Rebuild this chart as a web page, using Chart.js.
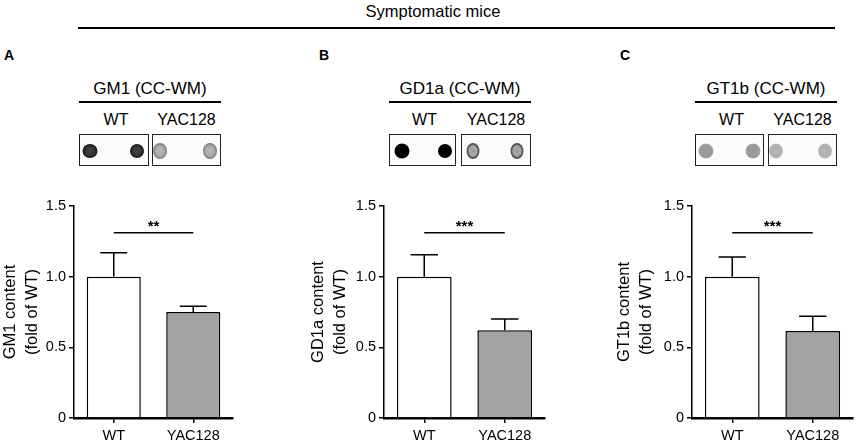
<!DOCTYPE html>
<html>
<head>
<meta charset="utf-8">
<script src="https://cdn.jsdelivr.net/npm/chart.js@4.4.0/dist/chart.umd.min.js"></script>
<style>
  body { margin: 0; background: #fff; font-family: "Liberation Sans", Arial, sans-serif; }
  #page { position: relative; width: 856px; height: 444px; overflow: hidden; }
  .txt { position: absolute; color: #000; white-space: nowrap; transform: translate(-50%, -50%); }
  .hline { position: absolute; background: #000; height: 1.5px; }
  .letter { position: absolute; font-weight: bold; font-size: 14px; }
  .box { position: absolute; border: 1.5px solid #222; box-sizing: border-box; background: #fbfbfb; }
  .spot { position: absolute; border-radius: 50%; transform: translate(-50%, -50%); }
  canvas { position: absolute; top: 190px; }
</style>
</head>
<body>
<div id="page">
  <div class="txt" style="left:433px;top:11px;font-size:16.5px;">Symptomatic mice</div>
  <div class="hline" style="left:78px;top:27px;width:757px;"></div>
  <div class="letter" style="left:4px;top:47px;">A</div>
  <div class="letter" style="left:319px;top:47px;">B</div>
  <div class="letter" style="left:620px;top:47px;">C</div>
  <canvas id="chartA" width="260" height="254" style="left:0px"></canvas>
  <canvas id="chartB" width="280" height="254" style="left:308px"></canvas>
  <canvas id="chartC" width="276" height="254" style="left:614px"></canvas>
</div>
<script>
// groups on the x axis
const groups = ['WT', 'YAC128'];
const yTicks = [0, 0.5, 1.0, 1.5];

// GM1 content (fold of WT)
const gm1Mean = [1.0, 0.75];
const gm1Sem = [0.17, 0.04];
// GD1a content
const gd1aMean = [1.0, 0.62];
const gd1aSem = [0.155, 0.08];
// GT1b content
const gt1bMean = [1.0, 0.615];
const gt1bSem = [0.14, 0.105];

const sigStars = ['**', '***', '***'];
const sigLevel = 1.31;

const page = document.getElementById('page');

// dot blot insets (decoration above each chart)
function addText(x, y, size, text) {
    var d = document.createElement('div');
    d.className = 'txt';
    d.style.left = x + 'px';
    d.style.top = y + 'px';
    d.style.fontSize = size + 'px';
    d.textContent = text;
    page.appendChild(d);
}

function addBlot(b) {
    addText((b.x0 + b.x3) / 2, 89, 17, b.title);
    var l = document.createElement('div');
    l.className = 'hline';
    l.style.left = b.x0 + 'px';
    l.style.top = '101px';
    l.style.width = (b.x3 - b.x0) + 'px';
    page.appendChild(l);
    addText((b.x0 + b.x1) / 2 + 2, 120, 16, 'WT');
    addText((b.x2 + b.x3) / 2, 120, 16, 'YAC128');
    [[b.x0, b.x1], [b.x2, b.x3]].forEach(function (r) {
        var box = document.createElement('div');
        box.className = 'box';
        box.style.left = r[0] + 'px';
        box.style.top = '134px';
        box.style.width = (r[1] - r[0]) + 'px';
        box.style.height = '32px';
        page.appendChild(box);
    });
    b.spots.forEach(function (s) {
        var sp = document.createElement('div');
        sp.className = 'spot';
        sp.style.left = s[0] + 'px';
        sp.style.top = '151px';
        sp.style.width = s[2] + 'px';
        sp.style.height = s[3] + 'px';
        sp.style.background = s[4];
        page.appendChild(sp);
    });
}

const darkRing = 'radial-gradient(ellipse at center, #444 0%, #333 45%, #111 70%, rgba(80,80,80,0.4) 90%, rgba(255,255,255,0) 100%)';
const greyRing = 'radial-gradient(ellipse at center, #b8b8b8 0%, #aaa 45%, #777 70%, rgba(150,150,150,0.4) 90%, rgba(255,255,255,0) 100%)';
const black = 'radial-gradient(ellipse at center, #000 0%, #000 72%, rgba(0,0,0,0.3) 90%, rgba(255,255,255,0) 100%)';
const greyDark = 'radial-gradient(ellipse at center, #999 0%, #aaa 40%, #444 65%, rgba(120,120,120,0.5) 85%, rgba(255,255,255,0) 100%)';
const grey = 'radial-gradient(ellipse at center, #999 0%, #9a9a9a 60%, rgba(150,150,150,0.5) 85%, rgba(255,255,255,0) 100%)';
const lightGrey = 'radial-gradient(ellipse at center, #b4b4b4 0%, #b0b0b0 60%, rgba(180,180,180,0.5) 85%, rgba(255,255,255,0) 100%)';

addBlot({ title: 'GM1 (CC-WM)', x0: 79, x1: 149, x2: 152, x3: 221,
    spots: [[90, 0, 15, 14, darkRing], [137, 0, 14, 14, darkRing], [160, 0, 14, 16, greyRing], [210, 0, 14, 16, greyRing]] });
addBlot({ title: 'GD1a (CC-WM)', x0: 389, x1: 456, x2: 461, x3: 531,
    spots: [[402, 0, 15, 15, black], [445, 0, 14, 14, black], [473, 0, 13, 16, greyDark], [517, 0, 13, 16, greyDark]] });
addBlot({ title: 'GT1b (CC-WM)', x0: 695, x1: 764, x2: 768, x3: 837,
    spots: [[706, 0, 15, 15, grey], [753, 0, 15, 15, grey], [776, 0, 14, 15, lightGrey], [825, 0, 14, 15, lightGrey]] });

// error bars and significance line
const annotPlugin = {
    id: 'annot',
    afterDatasetsDraw(chart) {
        const ctx = chart.ctx;
        const ys = chart.scales.y;
        const meta = chart.getDatasetMeta(0);
        const sem = chart.options.plugins.annot.sem;
        ctx.save();
        ctx.strokeStyle = '#000';
        ctx.lineWidth = 1.5;
        meta.data.forEach(function (bar, i) {
            const v = chart.data.datasets[0].data[i];
            const yTop = ys.getPixelForValue(v + sem[i]);
            const yBar = ys.getPixelForValue(v);
            const half = bar.width / 4;
            ctx.beginPath();
            ctx.moveTo(bar.x, yBar);
            ctx.lineTo(bar.x, yTop);
            ctx.moveTo(bar.x - half, yTop);
            ctx.lineTo(bar.x + half, yTop);
            ctx.stroke();
        });
        const ySig = ys.getPixelForValue(sigLevel);
        ctx.beginPath();
        ctx.moveTo(meta.data[0].x, ySig);
        ctx.lineTo(meta.data[1].x, ySig);
        ctx.stroke();
        ctx.fillStyle = '#000';
        ctx.font = 'bold 15px "Liberation Sans", Arial';
        ctx.textAlign = 'center';
        ctx.textBaseline = 'bottom';
        ctx.fillText(chart.options.plugins.annot.stars, (meta.data[0].x + meta.data[1].x) / 2, ySig + 2);
        ctx.restore();
    }
};

function createPanel(id, label, means, sem, stars, yWidth, rightPad) {
    return new Chart(document.getElementById(id), {
        type: 'bar',
        data: {
            labels: groups,
            datasets: [{
                data: means,
                backgroundColor: ['#ffffff', '#a3a3a3'],
                borderColor: '#000',
                borderWidth: 1.5,
                categoryPercentage: 1,
                barPercentage: 0.68
            }]
        },
        plugins: [annotPlugin],
        options: {
            responsive: false,
            animation: false,
            layout: { padding: { top: 16, right: rightPad, left: 0, bottom: 0 } },
            plugins: {
                legend: { display: false },
                tooltip: { enabled: false },
                annot: { sem: sem, stars: stars }
            },
            scales: {
                x: {
                    z: 1,
                    afterFit: function (s) { s.height = 26; },
                    grid: { display: true, offset: false, drawOnChartArea: false, drawTicks: true, tickLength: 5, color: '#000', lineWidth: 1.5 },
                    border: { display: true, color: '#000', width: 2.5 },
                    ticks: { color: '#000', padding: 4, font: { family: '"Liberation Sans", Arial', size: 14.5 } }
                },
                y: {
                    min: 0,
                    max: 1.5,
                    afterFit: function (s) { s.width = yWidth; },
                    afterBuildTicks: function (s) { s.ticks = yTicks.map(function (v) { return { value: v }; }); },
                    grid: { display: true, drawOnChartArea: false, drawTicks: true, tickLength: 5, color: '#000', lineWidth: 1.5 },
                    border: { display: true, color: '#000', width: 1.5 },
                    ticks: {
                        color: '#000',
                        padding: 3,
                        font: { family: '"Liberation Sans", Arial', size: 14.5 },
                        callback: function (v) { return v === 0 ? '0' : v.toFixed(1); }
                    },
                    title: {
                        display: true,
                        text: [label + ' content', '(fold of WT)'],
                        color: '#000',
                        font: { family: '"Liberation Sans", Arial', size: 16.5, lineHeight: 1.3 },
                        padding: { top: 0, bottom: 0 }
                    }
                }
            }
        }
    });
}

createPanel('chartA', 'GM1', gm1Mean, gm1Sem, sigStars[0], 74, 27);
createPanel('chartB', 'GD1a', gd1aMean, gd1aSem, sigStars[1], 76, 280 - (545 - 308));
createPanel('chartC', 'GT1b', gt1bMean, gt1bSem, sigStars[2], 78, 276 - (853 - 614));
</script>
</body>
</html>
